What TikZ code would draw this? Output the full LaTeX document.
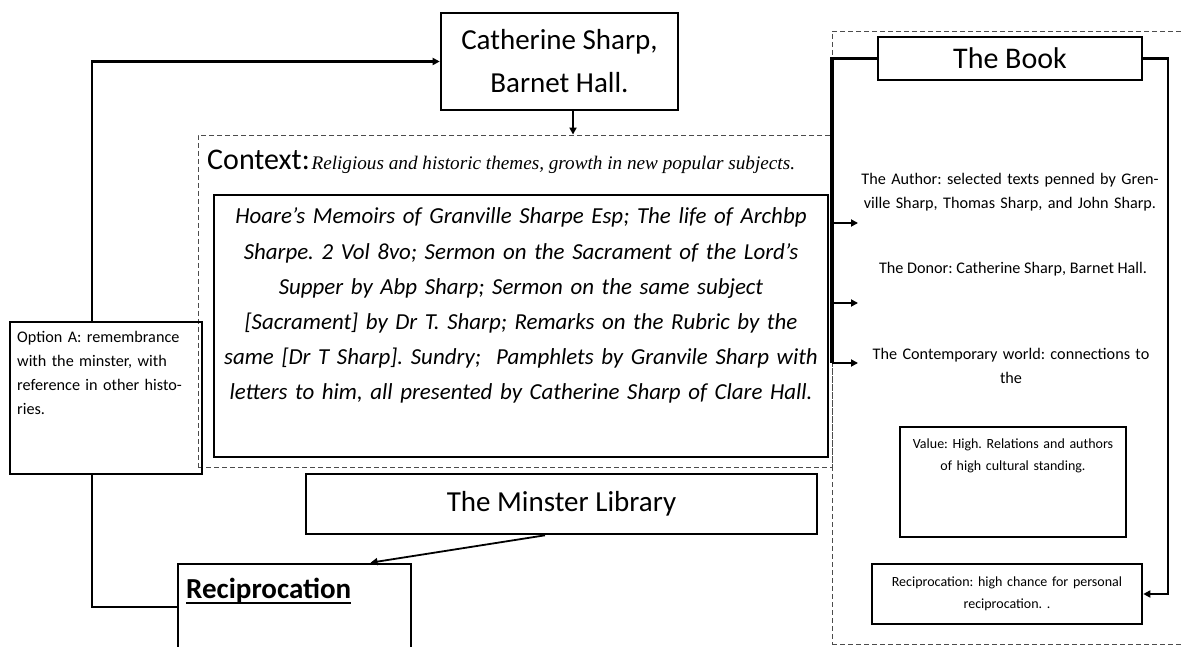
\documentclass[tikz,border=0pt]{standalone}
\usepackage{fontspec}
\setmainfont{Carlito}
\newfontfamily\oldserif{Liberation Serif}
\usetikzlibrary{arrows.meta,calc}

\begin{document}
\frenchspacing
\begin{tikzpicture}[x=1pt,y=-1pt,
  box/.style={draw, line width=2.6pt, rectangle, inner sep=0pt},
  dbox/.style={draw=black!70, line width=0.9pt, dash pattern=on 5pt off 3pt, rectangle, inner sep=0pt},
  link/.style={line width=2.4pt},
  arr/.style={line width=2.2pt, -{Triangle[length=7pt,width=7pt]}},
  bigtxt/.style={font=\fontsize{29}{46}\selectfont, align=center},
  smalltxt/.style={font=\fontsize{16.2}{24}\selectfont, inner sep=0pt},
  tinytxt/.style={font=\fontsize{14}{22}\selectfont, inner sep=0pt},
]
\useasboundingbox (0,0) rectangle (1181,647);
\fill[white] (0,0) rectangle (1181,647);

% left-hand column: donor, context, library
\node[box, minimum width=237pt, minimum height=97pt, bigtxt] (cath) at (559.5,61.5)
  {\raisebox{-3pt}{Catherine Sharp,}\\Barnet Hall.};
\node[dbox, minimum width=634pt, minimum height=332pt] (ctx) at (515,301) {};
\node[anchor=base west, inner sep=0pt] (ctxlabel) at (207,170)
  {{\fontsize{30}{30}\selectfont Context:}\,{\oldserif\itshape\fontsize{19.2}{20}\selectfont Religious and historic themes, growth in new popular subjects.}};
\node[box, minimum width=614pt, minimum height=262pt] (mainbox) at (521,326) {};
\node[anchor=base, inner sep=0pt, text width=610pt, align=center,
      font=\itshape\fontsize{22.9}{35.2}\selectfont] (maintext) at (521,224)
  {Hoare's Memoirs of Granville Sharpe Esp; The life of Archbp\\
   Sharpe. 2 Vol 8vo; Sermon on the Sacrament of the Lord's\\
   Supper by Abp Sharp; Sermon on the same subject\\
   {[}Sacrament] by Dr T. Sharp; Remarks on the Rubric by the\\
   same [Dr T Sharp]. Sundry;\ \ Pamphlets by Granvile Sharp with\\
   letters to him, all presented by Catherine Sharp of Clare Hall.};

\node[box, minimum width=192pt, minimum height=152pt] (optA) at (106,398) {};
\node[smalltxt, anchor=base west, text width=185pt, align=left] (optAtext) at (17,342)
  {Option A: remembrance\\with the minster, with\\reference in other histo-\\ries.};

\node[box, minimum width=511pt, minimum height=60pt, bigtxt] (minster) at (561.5,504)
  {The Minster Library};

\node[box, minimum width=233pt, minimum height=86pt] (recip) at (294.5,607) {};
\node[anchor=base west, inner sep=0pt, font=\bfseries\fontsize{29}{30}\selectfont] (rtitle) at (186,598)
  {Reciprocation};
\draw[line width=1.6pt] ($(rtitle.base west)+(0,5)$) -- ($(rtitle.base east)+(0,5)$);

% right-hand column: the book and its aspects
\node[dbox, minimum width=368pt, minimum height=613pt] (bookarea) at (1016,337.5) {};
\node[box, line width=2.2pt, minimum width=264pt, minimum height=43pt, bigtxt,
      font=\fontsize{30}{40}\selectfont] (book) at (1010,58.5) {The Book};
\node[smalltxt, anchor=base, text width=340pt, align=center] (author) at (1010,185)
  {The Author: selected texts penned by Gren-\\ville Sharp, Thomas Sharp, and John Sharp.};
\node[smalltxt, anchor=base, align=center] (donor) at (1013,273)
  {The Donor: Catherine Sharp, Barnet Hall.};
\node[smalltxt, anchor=base, text width=340pt, align=center] (world) at (1011,359)
  {The Contemporary world: connections to\\the};
\node[box, minimum width=226pt, minimum height=110pt] (value) at (1013,482) {};
\node[tinytxt, anchor=base, text width=240pt, align=center] (valuetext) at (1013,448)
  {Value: High. Relations and authors\\of high cultural standing.};
\node[box, minimum width=270pt, minimum height=60pt] (recipR) at (1007,594) {};
\node[tinytxt, anchor=base, text width=280pt, align=center] (recipRtext) at (1007,586)
  {Reciprocation: high chance for personal\\reciprocation. .};

% connectors
\coordinate (lx) at (92,0);
\coordinate (cx) at (573,0);
\coordinate (trunk) at (832,363);
\coordinate (rx) at (1168,0);
\coordinate (t1) at (858,223);
\coordinate (t2) at (858,303);
\coordinate (t3) at (858,363);

\draw[arr] (optA.north -| lx) |- (cath.west);
\draw[link] (optA.south -| lx) |- (recip.west);
\draw[arr] (cath.south -| cx) -- (ctx.north -| cx);
\draw[arr, line width=1.8pt] ($(minster.south)+(-16.5,0)$) -- ($(recip.north)+(76,0)$);

\draw[line width=3.6pt] (book.west) -| (trunk);
\draw[arr] (t1 -| trunk) -- (t1);
\draw[arr] (t2 -| trunk) -- (t2);
\draw[arr] (t3 -| trunk) -- (t3);
\draw[arr, line width=2.6pt] (book.east) -- (book.east -| rx) |- (recipR.east);
\end{tikzpicture}
\end{document}
